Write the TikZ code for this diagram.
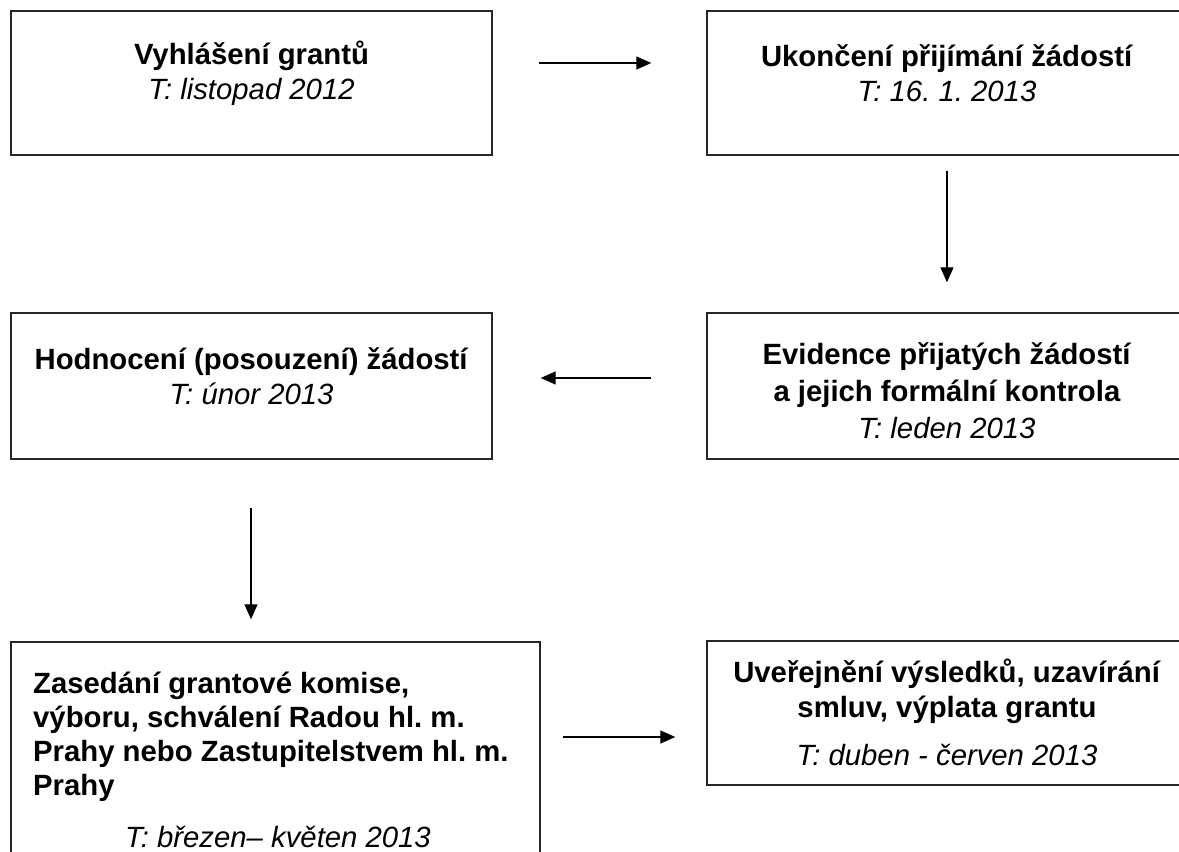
\documentclass[tikz,border=0pt]{standalone}
\usepackage{fontspec}
\setmainfont{Liberation Sans}
\usetikzlibrary{arrows.meta}
\frenchspacing
\tikzset{
  box/.style={draw=black!85, line width=1.4pt, rectangle, inner sep=0pt},
  lbl/.style={inner sep=0pt, align=center, font=\fontsize{29.3}{35}\selectfont},
  arr/.style={line width=1.3pt, -{Triangle[length=15pt,width=13pt]}}
}
\begin{document}
\begin{tikzpicture}[x=1pt,y=-1pt]
\useasboundingbox (0,0) rectangle (1179,852);
\clip (0,0) rectangle (1179,852);
% boxes
\node[box, minimum width=481pt, minimum height=144pt] (b1) at (251.5,83) {};
\node[box, minimum width=480pt, minimum height=144pt] (b2) at (947,83) {};
\node[box, minimum width=481pt, minimum height=146pt] (b3) at (251.5,386) {};
\node[box, minimum width=480pt, minimum height=146pt] (b4) at (947,386) {};
\node[box, minimum width=529pt, minimum height=240pt] (b5) at (275.5,762) {};
\node[box, minimum width=480pt, minimum height=144pt] (b6) at (947,713) {};
% labels
\node[lbl] (t1) at (251.5,73) {\textbf{Vyhlášení grantů}\\\textit{T: listopad 2012}};
\node[lbl] (t2) at (947,73) {\textbf{Ukončení přijímání žádostí}\\\textit{T: 16. 1. 2013}};
\node[lbl] (t3) at (251.5,376) {\textbf{Hodnocení (posouzení) žádostí}\\\textit{T: únor 2013}};
\node[lbl, font=\fontsize{29.3}{37}\selectfont] (t4) at (947,391) {\textbf{Evidence přijatých žádostí}\\\textbf{a jejich formální kontrola}\\\textit{T: leden 2013}};
\node[lbl, align=left, anchor=west, font=\fontsize{29.3}{34}\selectfont] (t5) at (33,737) {\textbf{Zasedání grantové komise,}\\\textbf{výboru, schválení Radou hl. m.}\\\textbf{Prahy nebo Zastupitelstvem hl. m.}\\\textbf{Prahy}};
\node[lbl] (t5b) at (278,837) {\textit{T: březen– květen 2013}};
\node[lbl] (t6) at (947,712) {\textbf{Uveřejnění výsledků, uzavírání}\\\textbf{smluv, výplata grantu}\\[13pt]\textit{T: duben - červen 2013}};
% connectors
\draw[arr] ([xshift=46pt,yshift=20pt]b1.east) -- ([xshift=-55pt,yshift=20pt]b2.west);
\draw[arr] ([yshift=-15pt]b2.south) -- ([yshift=30pt]b4.north);
\draw[arr] ([xshift=-55pt,yshift=8pt]b4.west) -- ([xshift=48pt,yshift=8pt]b3.east);
\draw[arr] ([xshift=-0.5pt,yshift=-48pt]b3.south) -- ([xshift=-24.5pt,yshift=22pt]b5.north);
\draw[arr] ([xshift=22pt,yshift=25pt]b5.east) -- ([xshift=-31pt,yshift=-24pt]b6.west);
\end{tikzpicture}
\end{document}
